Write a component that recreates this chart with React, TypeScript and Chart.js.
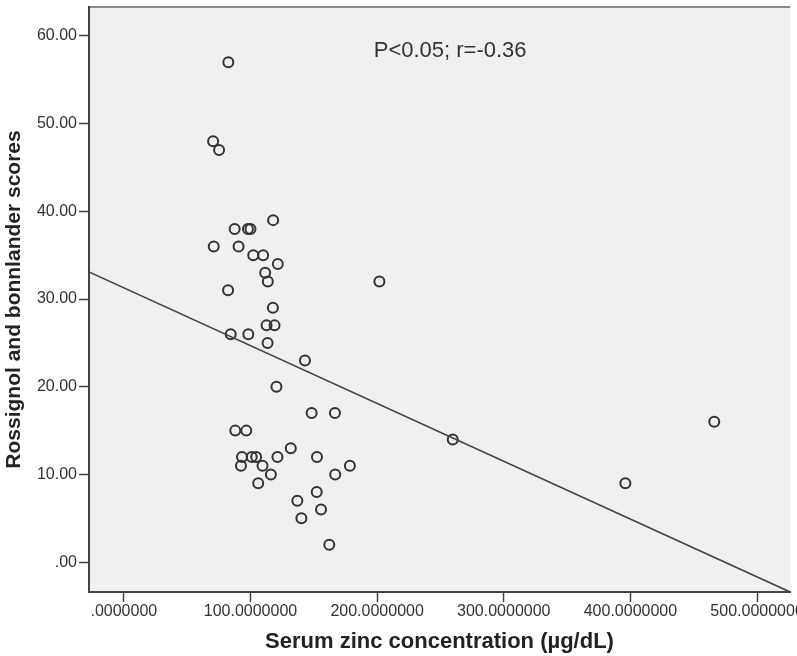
import React, { useEffect, useRef } from "react";
import { Chart, registerables } from "chart.js";

Chart.register(...registerables);

// Serum zinc concentration (µg/dL)
const zincValues: number[] = [
  82.5, 70.5, 75.2, 117.9, 87.5, 98, 100, 71, 90.6, 102.2, 110, 121.6, 111.6, 113.7, 82.3, 201.8,
  117.7, 112.7, 119, 84.4, 98.3, 113.5, 143, 120.5, 148.3, 166.7, 88, 96.7, 93.3, 101, 104.5, 121.3,
  131.8, 152.5, 178.5, 92.5, 109.5, 116.1, 166.9, 106.1, 152.3, 137, 155.7, 140.2, 162.2, 259.7, 396, 466.2,
];
// Rossignol and bonnlander scores
const scoreValues: number[] = [
  57, 48, 47, 39, 38, 38, 38, 36, 36, 35, 35, 34, 33, 32, 31, 32,
  29, 27, 27, 26, 26, 25, 23, 20, 17, 17, 15, 15, 12, 12, 12, 12,
  13, 12, 11, 11, 11, 10, 10, 9, 8, 7, 6, 5, 2, 14, 9, 16,
];

// Fit line end points
const fitLineX: number[] = [-27.5, 526];
const fitLineY: number[] = [33.1, -3.4];

const xTickValues: number[] = [0, 100, 200, 300, 400, 500];
const xTickLabels: string[] = [".0000000", "100.0000000", "200.0000000", "300.0000000", "400.0000000", "500.0000000"];
const yTickValues: number[] = [0, 10, 20, 30, 40, 50, 60];
const yTickLabels: string[] = [".00", "10.00", "20.00", "30.00", "40.00", "50.00", "60.00"];

const xTitle = "Serum zinc concentration (\u00b5g/dL)";
const yTitle = "Rossignol and bonnlander scores";
const annotationText = "P<0.05; r=-0.36";
const annotationPos = { x: 197.3, y: 58.3 };

const FONT = "'Liberation Sans', Arial, sans-serif";

const zeroPad = (s: any) => {
  s.paddingLeft = 0;
  s.paddingRight = 0;
  s.paddingTop = 0;
  s.paddingBottom = 0;
};

export default function App() {
  const ref = useRef<HTMLCanvasElement | null>(null);

  useEffect(() => {
    document.body.style.margin = "0";
    const canvas = ref.current;
    if (!canvas) return;

    const bgPlugin = {
      id: "bgPlugin",
      beforeDraw(chart: any) {
        const { ctx, chartArea } = chart;
        ctx.save();
        ctx.fillStyle = "#ffffff";
        ctx.fillRect(0, 0, chart.width, chart.height);
        ctx.fillStyle = "#f0f0f0";
        ctx.fillRect(chartArea.left, chartArea.top, chartArea.right - chartArea.left, chartArea.bottom - chartArea.top);
        ctx.strokeStyle = "#8a8a8a";
        ctx.lineWidth = 2;
        ctx.beginPath();
        ctx.moveTo(chartArea.left, chartArea.top);
        ctx.lineTo(chartArea.right, chartArea.top);
        ctx.stroke();
        ctx.restore();
      },
      afterDatasetsDraw(chart: any) {
        const { ctx } = chart;
        const xs = chart.scales.x;
        const ys = chart.scales.y;
        ctx.save();
        ctx.fillStyle = "#333333";
        ctx.font = `22px ${FONT}`;
        ctx.textAlign = "left";
        ctx.textBaseline = "middle";
        ctx.fillText(annotationText, xs.getPixelForValue(annotationPos.x), ys.getPixelForValue(annotationPos.y));
        ctx.restore();
      },
    };

    const points = zincValues.map((x, i) => ({ x, y: scoreValues[i] }));
    const line = fitLineX.map((x, i) => ({ x, y: fitLineY[i] }));

    const chart = new Chart(canvas, {
      type: "scatter",
      data: {
        datasets: [
          {
            type: "line",
            data: line,
            borderColor: "#444444",
            borderWidth: 1.6,
            pointRadius: 0,
            fill: false,
          } as any,
          {
            type: "scatter",
            data: points,
            pointRadius: 5,
            pointBorderWidth: 2,
            borderColor: "#333333",
            pointBorderColor: "#333333",
            backgroundColor: "rgba(0,0,0,0)",
            pointBackgroundColor: "rgba(0,0,0,0)",
          } as any,
        ],
      },
      options: {
        animation: false,
        responsive: false,
        devicePixelRatio: 1,
        layout: { padding: { top: 3, right: 5, left: 0, bottom: 0 } },
        plugins: {
          legend: { display: false },
          tooltip: { enabled: false },
        },
        scales: {
          x: {
            type: "linear",
            min: -27.5,
            max: 526,
            afterFit: (s: any) => {
              s.height = 64;
              zeroPad(s);
            },
            afterBuildTicks: (s: any) => {
              s.ticks = xTickValues.map((v) => ({ value: v }));
            },
            ticks: {
              color: "#333333",
              font: { family: FONT, size: 16 },
              padding: 0,
              maxRotation: 0,
              autoSkip: false,
              callback: (v: any) => {
                const i = xTickValues.indexOf(Number(v));
                return i >= 0 ? xTickLabels[i] : "";
              },
            },
            grid: {
              drawOnChartArea: false,
              drawTicks: true,
              tickLength: 10,
              tickColor: "#444444",
              tickWidth: 1.5,
            },
            border: { display: true, color: "#444444", width: 2 },
            title: {
              display: true,
              text: xTitle,
              color: "#222222",
              font: { family: FONT, size: 22, weight: "bold" },
              padding: { top: 0, bottom: 1 },
            },
          },
          y: {
            type: "linear",
            min: -3.4,
            max: 63.3,
            afterFit: (s: any) => {
              s.width = 89;
              zeroPad(s);
            },
            afterBuildTicks: (s: any) => {
              s.ticks = yTickValues.map((v) => ({ value: v }));
            },
            ticks: {
              color: "#333333",
              font: { family: FONT, size: 16 },
              padding: 2,
              autoSkip: false,
              callback: (v: any) => {
                const i = yTickValues.indexOf(Number(v));
                return i >= 0 ? yTickLabels[i] : "";
              },
            },
            grid: {
              drawOnChartArea: false,
              drawTicks: true,
              tickLength: 10,
              tickColor: "#444444",
              tickWidth: 1.5,
            },
            border: { display: true, color: "#444444", width: 2 },
            title: {
              display: true,
              text: yTitle,
              color: "#222222",
              font: { family: FONT, size: 21, weight: "bold" },
              padding: { top: 1.5, bottom: 0 },
            },
          },
        },
      } as any,
      plugins: [bgPlugin],
    });

    return () => {
      chart.destroy();
    };
  }, []);

  return (
    <div style={{ position: "fixed", left: 0, top: 0, width: 797, height: 656, background: "#fff" }}>
      <canvas ref={ref} width={797} height={656} style={{ width: 797, height: 656, display: "block" }} />
    </div>
  );
}
